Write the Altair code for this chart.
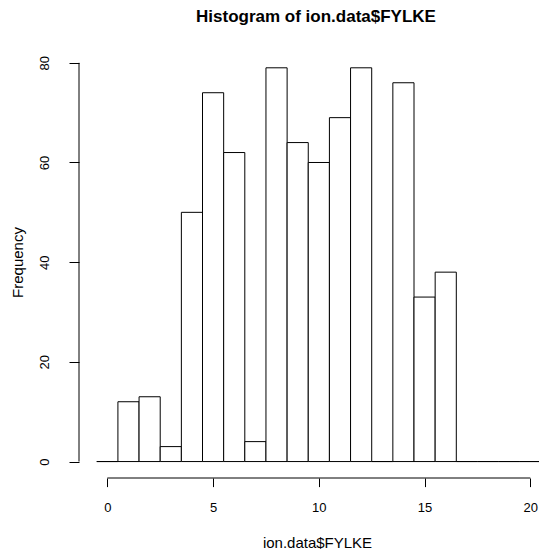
import altair as alt
import pandas as pd

# Histogram bins (unit width, centred on integers) and their counts
bin_left = [-0.5, 0.5, 1.5, 2.5, 3.5, 4.5, 5.5, 6.5, 7.5, 8.5, 9.5,
            10.5, 11.5, 12.5, 13.5, 14.5, 15.5, 16.5, 17.5, 18.5, 19.5]
bin_right = [0.5, 1.5, 2.5, 3.5, 4.5, 5.5, 6.5, 7.5, 8.5, 9.5, 10.5,
             11.5, 12.5, 13.5, 14.5, 15.5, 16.5, 17.5, 18.5, 19.5, 20.5]
counts = [0, 12, 13, 3, 50, 74, 62, 4, 79, 64, 60,
          69, 79, 0, 76, 33, 38, 0, 0, 0, 0]

x_ticks = [0, 5, 10, 15, 20]
y_ticks = [0, 20, 40, 60, 80]

FONT = "Liberation Sans"

df = pd.DataFrame({"lo": bin_left, "hi": bin_right, "n": counts,
                   "base": [0] * len(counts)})

xscale = alt.Scale(domain=[-1.34, 20.41], nice=False, zero=False)
yscale = alt.Scale(domain=[-3.3, 82.17], nice=False, zero=False)

xaxis = alt.Axis(
    values=x_ticks, domain=False, grid=False, tickSize=8.6,
    tickColor="black", tickWidth=1, labelFontSize=13, labelFont=FONT,
    labelColor="black", labelBaseline="alphabetic", labelPadding=25,
    labelFlush=False, labelOverlap=False,
    title="ion.data$FYLKE", titleFont=FONT, titleFontSize=15,
    titleFontWeight="normal", titleColor="black", titleX=238, titleY=69,
    titleAlign="center", titleBaseline="alphabetic")
yaxis = alt.Axis(
    values=y_ticks, domain=False, grid=False, tickSize=10,
    tickColor="black", tickWidth=1, labelFontSize=13, labelFont=FONT,
    labelColor="black", labelAngle=270, labelAlign="center",
    labelBaseline="alphabetic", labelPadding=21, labelFlush=False,
    labelOverlap=False,
    title="Frequency", titleFont=FONT, titleFontSize=15,
    titleFontWeight="normal", titleColor="black", titleAngle=270,
    titleX=-57, titleY=210, titleAlign="center",
    titleBaseline="alphabetic")

bars = alt.Chart(df).mark_rect(
    fill="white", stroke="black", strokeWidth=1
).encode(
    x=alt.X("lo:Q", scale=xscale, axis=xaxis),
    x2="hi:Q",
    y=alt.Y("base:Q", scale=yscale, axis=yaxis),
    y2="n:Q",
)

xaxis_df = pd.DataFrame({"lo": [x_ticks[0]], "hi": [x_ticks[-1]]})
yaxis_df = pd.DataFrame({"base": [y_ticks[0]], "n": [y_ticks[-1]]})

x_line = alt.Chart(xaxis_df).mark_rule(color="black", strokeWidth=1).encode(
    x=alt.X("lo:Q", scale=xscale, axis=xaxis),
    x2="hi:Q",
    y=alt.value(426),
)
y_line = alt.Chart(yaxis_df).mark_rule(color="black", strokeWidth=1).encode(
    y=alt.Y("base:Q", scale=yscale, axis=yaxis),
    y2="n:Q",
    x=alt.value(0),
)

chart = alt.layer(bars, x_line, y_line).properties(
    width=460,
    height=426,
    autosize=alt.AutoSizeParams(type="none"),
    padding={"left": 79, "top": 52, "right": 0, "bottom": 74},
    title=alt.TitleParams(
        text="Histogram of ion.data$FYLKE", font=FONT, fontSize=17,
        fontWeight="bold", color="black", anchor="middle",
        baseline="alphabetic", offset=13, dx=7),
).configure(background="white").configure_view(stroke=None, strokeWidth=0)

chart.save("out.html", embed_options={"renderer": "svg", "actions": False})
